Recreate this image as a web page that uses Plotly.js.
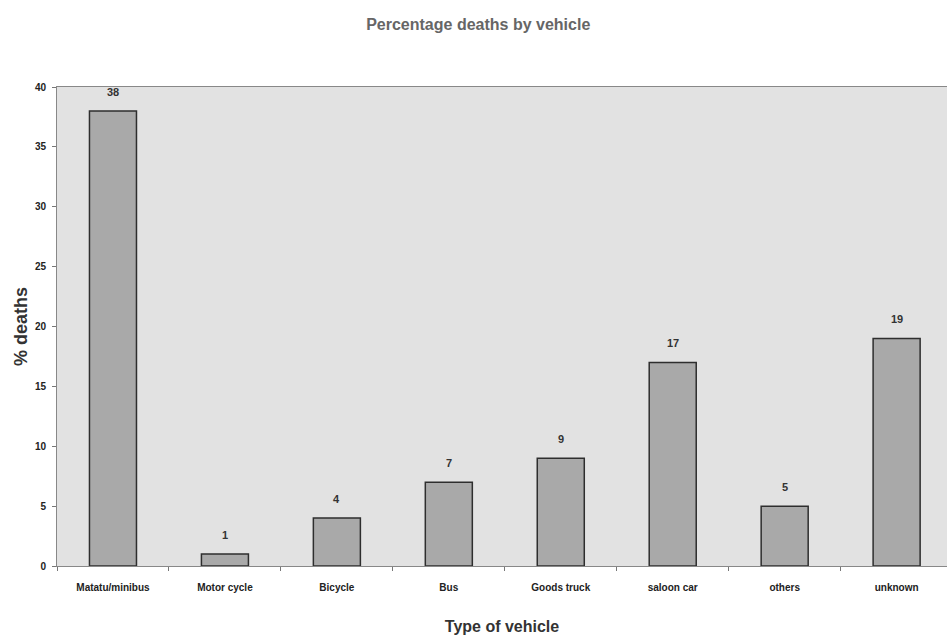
<!DOCTYPE html>
<html>
<head>
<meta charset="utf-8">
<script src="https://cdn.plot.ly/plotly-3.0.1.min.js"></script>
<style>html,body{margin:0;padding:0;background:#fff;}#chart{width:947px;height:639px;}</style>
</head>
<body>
<div id="chart"></div>
<script>
const categories = ["Matatu/minibus", "Motor cycle", "Bicycle", "Bus", "Goods truck", "saloon car", "others", "unknown"];
const deathsPct = [38, 1, 4, 7, 9, 17, 5, 19];
const yTicks = [0, 5, 10, 15, 20, 25, 30, 35, 40];

const trace = {
  type: 'bar',
  x: categories,
  y: deathsPct,
  width: 0.42,
  marker: {color: '#a9a9a9', line: {color: '#2e2e2e', width: 1.5}},
  hoverinfo: 'none'
};

const valueLabels = categories.map((c, i) => ({
  x: c, y: deathsPct[i], xref: 'x', yref: 'y',
  text: String(deathsPct[i]), showarrow: false,
  yanchor: 'bottom', yshift: 11,
  font: {family: 'Arial, Liberation Sans, sans-serif', size: 11, color: '#333', weight: 'bold'}
}));

const layout = {
  width: 947, height: 639,
  margin: {l: 57, r: 0, t: 87, b: 73},
  paper_bgcolor: '#ffffff',
  plot_bgcolor: '#e2e2e2',
  showlegend: false,
  font: {family: 'Arial, Liberation Sans, sans-serif', color: '#333'},
  title: {text: 'Percentage deaths by vehicle', x: 0.505, xanchor: 'center', y: 0.962, yanchor: 'middle',
          font: {size: 16, color: '#666', weight: 'bold'}},
  xaxis: {
    type: 'category',
    range: [-0.5, 7.45],
    tickson: 'boundaries',
    ticks: 'outside', ticklen: 4, tickcolor: '#777',
    ticklabelstandoff: 12,
    showline: true, linecolor: '#888', linewidth: 1, mirror: true,
    showgrid: false, zeroline: false,
    tickfont: {size: 10, color: '#222', weight: 'bold'},
    automargin: false,
    title: {text: 'Type of vehicle', standoff: 28, font: {size: 16, color: '#333', weight: 'bold'}}
  },
  yaxis: {
    range: [0, 40],
    tickvals: yTicks,
    ticks: 'outside', ticklen: 4, tickcolor: '#777',
    ticklabelstandoff: 4,
    showline: true, linecolor: '#888', linewidth: 1, mirror: true,
    showgrid: false, zeroline: false,
    tickfont: {size: 10, color: '#222', weight: 'bold'},
    automargin: false,
    title: {text: '% deaths', standoff: 2, font: {size: 18, color: '#333', weight: 'bold'}}
  },
  annotations: valueLabels,
  bargap: 0.58
};

Plotly.newPlot('chart', [trace], layout, {displayModeBar: false, staticPlot: true});
</script>
</body>
</html>
